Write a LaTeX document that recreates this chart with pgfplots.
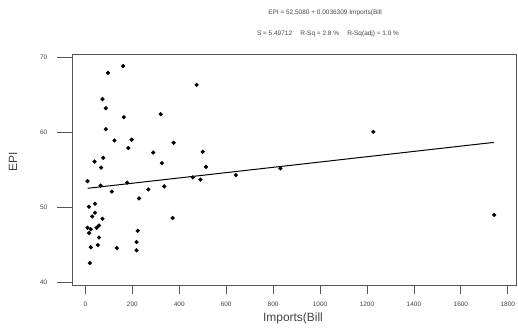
\documentclass[border=0pt]{standalone}
\usepackage{pgfplots}
\pgfplotsset{compat=1.18}
\usepackage{fontspec}
\setmainfont{Liberation Sans}
\definecolor{axgray}{HTML}{555555}
\definecolor{txgray}{HTML}{444444}
\begin{document}
\begin{tikzpicture}[x=1bp,y=1bp]
\path[use as bounding box] (0,0) rectangle (518,330);
\begin{axis}[
  at={(72bp,44.3bp)}, anchor=south west,
  scale only axis, width=444bp, height=231.7bp,
  xmin=-57, xmax=1835, ymin=39.6, ymax=70.4,
  xtick={0,200,...,1800}, ytick={40,50,60,70},
  tick pos=left, tick align=outside,
  xtick style={/pgfplots/major tick length=8bp, axgray, line width=0.8pt},
  ytick style={/pgfplots/major tick length=15bp, axgray, line width=0.8pt},
  axis line style={axgray, line width=0.8pt},
  tick label style={font=\fontsize{6.5}{7}\selectfont, txgray},
  /pgf/number format/assume math mode=true,
  /pgf/number format/1000 sep={},
  xticklabel style={yshift=-9bp},
  yticklabel style={xshift=-17bp},
  clip=false,
]
\addplot[only marks, mark=*, mark size=1.9bp, black] coordinates {
(161,68.8) (96,67.9) (73,64.4) (87,63.2) (164,62.0) (321,62.4) (474,66.3)
(87,60.4) (124,58.9) (197,59.0) (183,57.9) (376,58.6) (289,57.3) (500,57.4)
(76,56.6) (39,56.1) (67,55.3) (326,55.9) (514,55.4) (9,53.5) (65,52.9)
(178,53.3) (113,52.1) (268,52.4) (336,52.8) (458,54.0) (490,53.7) (641,54.3)
(229,51.2) (15,50.1) (41,50.5) (41,49.3) (29,48.8) (73,48.5) (372,48.6)
(9,47.3) (23,47.1) (16,46.6) (48,47.3) (58,47.6) (223,46.9) (58,46.0)
(218,45.4) (23,44.7) (53,45.0) (134,44.6) (218,44.3) (19,42.6)
(831,55.2) (1227,60.05) (1742,49.0)
};
\addplot[black, line width=1pt] coordinates {(10,52.55) (1740,58.65)};
\end{axis}
\node[font=\fontsize{6.5}{7}\selectfont, txgray] at (325,317) {EPI = 52.5080 + 0.0036309 Imports(Bill};
\node[font=\fontsize{6.5}{7}\selectfont, txgray] at (328,296) {S = 5.49712\quad\ R-Sq = 2.8 \%\quad\ R-Sq(adj) = 1.0 \%};
\node[font=\fontsize{12}{13}\selectfont, txgray, rotate=90] at (13,168) {EPI};
\node[font=\fontsize{12}{13}\selectfont, txgray] at (293,12) {Imports(Bill};
\end{tikzpicture}
\end{document}
